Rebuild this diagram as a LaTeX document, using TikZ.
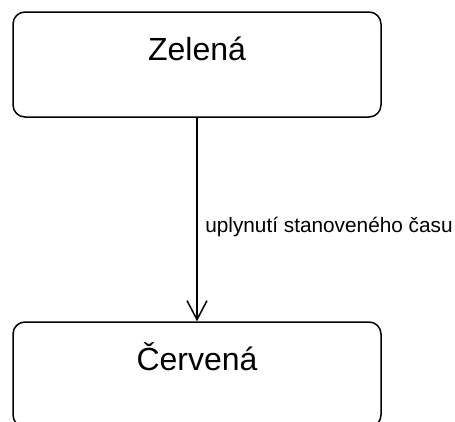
\documentclass[tikz,border=0pt]{standalone}
\usepackage{fontspec}
\setmainfont{Liberation Sans}
\usetikzlibrary{arrows.meta}
\begin{document}
\begin{tikzpicture}[x=1pt, y=-1pt]
    \tikzset{>={Straight Barb[length=19pt,width=20pt]}}
    \tikzset{stav/.style={draw, line width=1.5pt, rounded corners=12pt,
        minimum width=368pt, inner sep=0pt, text height=48pt, text depth=57pt,
        font=\fontsize{32}{37}\selectfont}}
    \tikzset{popis/.style={anchor=west, inner sep=0pt, xshift=7.5pt, yshift=-7pt,
        font=\fontsize{20.8}{25}\selectfont}}
    \useasboundingbox (0,0) rectangle (455,421);

    \node [stav] (zelena) at (197,64.5) {Zelená};
    \node [stav] (cervena) at (197,374.5) {Červená};

    \draw [->, line width=1.5pt] (zelena) -- node [popis] (cas) {uplynutí stanoveného času} (cervena);
\end{tikzpicture}
\end{document}
